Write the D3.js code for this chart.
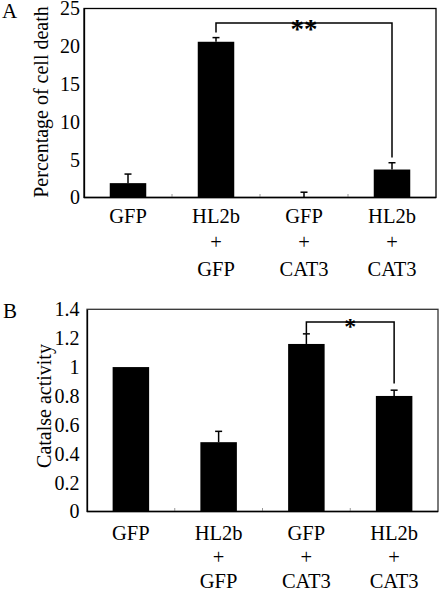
<!DOCTYPE html>
<html>
<head>
<meta charset="utf-8">
<script src="https://cdn.jsdelivr.net/npm/d3@7"></script>
<style>
  html, body { margin: 0; padding: 0; background: #fff; }
  svg { display: block; font-family: "Liberation Serif", "Times New Roman", serif; }
</style>
</head>
<body>
<svg id="chart" width="442" height="593"></svg>
<script>
// ---- data ----
const categories = ["c1", "c2", "c3", "c4"];
const labelLine1 = ["GFP", "HL2b", "GFP", "HL2b"];
const labelLine2 = ["", "+", "+", "+"];
const labelLine3 = ["", "GFP", "CAT3", "CAT3"];

const deathValues = [1.9, 20.6, 0, 3.7];
const deathErrors = [1.2, 0.55, 0.7, 0.9];
const deathTicks = [0, 5, 10, 15, 20, 25];

const catalaseValues = [1.0, 0.48, 1.16, 0.80];
const catalaseErrors = [0, 0.075, 0.07, 0.04];
const catalaseTicks = [0, 0.2, 0.4, 0.6, 0.8, 1, 1.2, 1.4];

const svg = d3.select("#chart");
const FONT = "Liberation Serif, Times New Roman, serif";

function panel(opts) {
  const g = svg.append("g").attr("font-family", FONT);
  const x = d3.scaleBand().domain(categories).range([opts.left, opts.right]).paddingInner(0).paddingOuter(0);
  const y = d3.scaleLinear().domain([0, opts.max]).range([opts.bottom, opts.top]);
  const bw = 36.5;

  // frame
  g.append("rect")
    .attr("x", opts.left).attr("y", opts.top)
    .attr("width", opts.right - opts.left).attr("height", opts.bottom - opts.top)
    .attr("fill", "none").attr("stroke", opts.frameColor).attr("stroke-width", 1.3);

  // y axis labels
  const yAxis = d3.axisLeft(y).tickValues(opts.ticks).tickSize(0).tickPadding(opts.left - opts.labelRight)
    .tickFormat(d => String(d));
  const ya = g.append("g").attr("transform", `translate(${opts.left},0)`).call(yAxis);
  ya.attr("font-family", FONT);
  ya.select(".domain").attr("stroke", "#000").attr("stroke-width", 1.3);
  ya.selectAll("text").attr("font-size", 20).attr("fill", "#000");

  // x tick marks between categories
  g.selectAll(".xt").data(categories.slice(1)).enter().append("line")
    .attr("x1", d => x(d)).attr("x2", d => x(d))
    .attr("y1", opts.bottom).attr("y2", opts.bottom - 3.5)
    .attr("stroke", "#999").attr("stroke-width", 1);

  // bars
  g.selectAll(".bar").data(opts.values).enter().append("rect")
    .attr("x", (d, i) => x(categories[i]) + x.bandwidth() / 2 - bw / 2)
    .attr("y", d => y(d))
    .attr("width", bw)
    .attr("height", d => opts.bottom - y(d))
    .attr("fill", "#000");

  // error bars (upper only)
  opts.values.forEach((v, i) => {
    const e = opts.errors[i];
    if (!e) return;
    const cx = x(categories[i]) + x.bandwidth() / 2;
    g.append("line").attr("x1", cx).attr("x2", cx).attr("y1", y(v)).attr("y2", y(v + e))
      .attr("stroke", "#000").attr("stroke-width", 1.5);
    g.append("line").attr("x1", cx - 3.5).attr("x2", cx + 3.5).attr("y1", y(v + e)).attr("y2", y(v + e))
      .attr("stroke", "#000").attr("stroke-width", 1.5);
  });

  // x axis baseline
  g.append("line").attr("x1", opts.left).attr("x2", opts.right)
    .attr("y1", opts.bottom).attr("y2", opts.bottom).attr("stroke", "#000").attr("stroke-width", 1.5);

  // category labels
  [labelLine1, labelLine2, labelLine3].forEach((arr, li) => {
    g.selectAll(".cl" + li).data(arr).enter().append("text")
      .attr("x", (d, i) => x(categories[i]) + x.bandwidth() / 2)
      .attr("y", opts.bottom + opts.labelOffset + li * opts.lineGap)
      .attr("text-anchor", "middle").attr("font-size", 20.5).attr("fill", "#000")
      .text(d => d);
  });

  // significance bracket
  const [a, b] = opts.bracket;
  const xa = x(categories[a]) + x.bandwidth() / 2;
  const xb = x(categories[b]) + x.bandwidth() / 2;
  const by = opts.bracketY;
  g.append("path")
    .attr("d", `M${xa},${opts.legA} V${by} H${xb} V${opts.legB}`)
    .attr("fill", "none").attr("stroke", "#000").attr("stroke-width", 1.5);
  g.append("text").attr("x", (xa + xb) / 2).attr("y", opts.starY)
    .attr("text-anchor", "middle").attr("font-size", opts.starSize).attr("font-weight", "bold")
    .text(opts.stars);

  // y title
  g.append("text")
    .attr("transform", `translate(${opts.titleX},${opts.titleY}) rotate(-90)`)
    .attr("text-anchor", "middle").attr("font-size", 20).attr("fill", "#000")
    .text(opts.title);

  // panel letter
  g.append("text").attr("x", opts.letterX).attr("y", opts.letterY)
    .attr("font-size", 21).attr("fill", "#000").text(opts.letter);

  return { x, y };
}

panel({
  left: 84, right: 436, top: 8.5, bottom: 197.5, max: 25,
  ticks: deathTicks, values: deathValues, errors: deathErrors,
  labelRight: 80, frameColor: "#000",
  labelOffset: 25, lineGap: 26.5,
  bracket: [1, 3], bracketY: 23, legA: 32.5, legB: 157.5,
  stars: "**", starY: 38, starSize: 27,
  title: "Percentage of cell death", titleX: 48, titleY: 102,
  letter: "A", letterX: 2, letterY: 18
});

panel({
  left: 87, right: 438, top: 309.3, bottom: 511.5, max: 1.4,
  ticks: catalaseTicks, values: catalaseValues, errors: catalaseErrors,
  labelRight: 79.5, frameColor: "#333",
  labelOffset: 28, lineGap: 24.3,
  bracket: [2, 3], bracketY: 322, legA: 333.5, legB: 383.5,
  stars: "*", starY: 334, starSize: 24,
  title: "Catalse activity", titleX: 51, titleY: 406,
  letter: "B", letterX: 3, letterY: 318
});
</script>
</body>
</html>
